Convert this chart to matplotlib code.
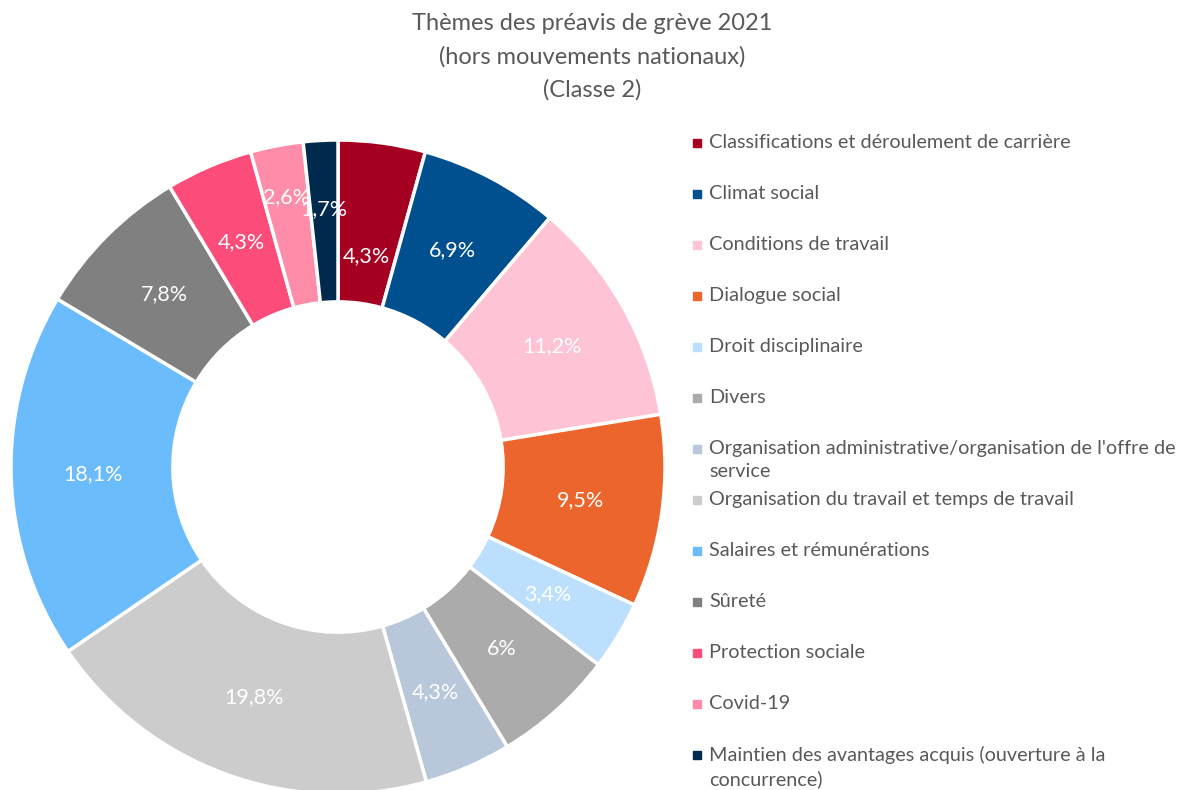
import numpy as np
import matplotlib.pyplot as plt

# data
labels = [
    "Classifications et déroulement de carrière",
    "Climat social",
    "Conditions de travail",
    "Dialogue social",
    "Droit disciplinaire",
    "Divers",
    "Organisation administrative/organisation de l'offre de\nservice",
    "Organisation du travail et temps de travail",
    "Salaires et rémunérations",
    "Sûreté",
    "Protection sociale",
    "Covid-19",
    "Maintien des avantages acquis (ouverture à la\nconcurrence)",
]
values = [4.3, 6.9, 11.2, 9.5, 3.4, 6.0, 4.3, 19.8, 18.1, 7.8, 4.3, 2.6, 1.7]
colors = ["#A50021", "#00508F", "#FEC3D5", "#EB652D", "#BBDFFC", "#ABABAB",
          "#B8C7DA", "#CCCCCC", "#6BBCFD", "#808080", "#FC4C7A", "#FF8CA8", "#002A4D"]
# radial position of each data label (Excel nudges the crowded ones)
label_r = [0.65, 0.75, 0.75, 0.75, 0.75, 0.75, 0.75, 0.75, 0.75, 0.75, 0.75, 0.84, 0.79]

plt.rcParams['font.family'] = ['Lato', 'DejaVu Sans']

W, H = 1179, 790
fig = plt.figure(figsize=(W / 100, H / 100), dpi=100)

# pie axes placed in pixel terms
cx, cy, r = 338, 467, 327
ax = fig.add_axes([(cx - r) / W, (H - cy - r) / H, 2 * r / W, 2 * r / H])
wedges, _ = ax.pie(values, colors=colors, startangle=90, counterclock=False,
                   radius=1, wedgeprops=dict(width=0.495, edgecolor="white", linewidth=2.5))
ax.set_xlim(-1, 1)
ax.set_ylim(-1, 1)
ax.set_aspect("equal")
ax.axis("off")

for w, v, lr in zip(wedges, values, label_r):
    ang = np.deg2rad((w.theta1 + w.theta2) / 2)
    lab = f"{v:g}%".replace(".", ",")
    ax.text(lr * np.cos(ang), lr * np.sin(ang), lab, ha="center", va="center",
            color="white", fontsize=15.5)

# title
fig.text(592 / W, 1 - 57 / H, "Thèmes des préavis de grève 2021\n(hors mouvements nationaux)\n(Classe 2)",
         ha="center", va="center", fontsize=17, color="#595959", linespacing=1.68)

# legend
for i, (lab, col) in enumerate(zip(labels, colors)):
    y = 143 + i * 51.0
    fig.patches.append(plt.Rectangle((693 / W, 1 - (y + 4) / H), 8 / W, 8 / H,
                                     transform=fig.transFigure, color=col))
    fig.text(709 / W, 1 - (y - 9) / H, lab, ha="left", va="top", fontsize=14.3,
             color="#595959", linespacing=1.42)

fig.savefig("out.png", dpi=100)
